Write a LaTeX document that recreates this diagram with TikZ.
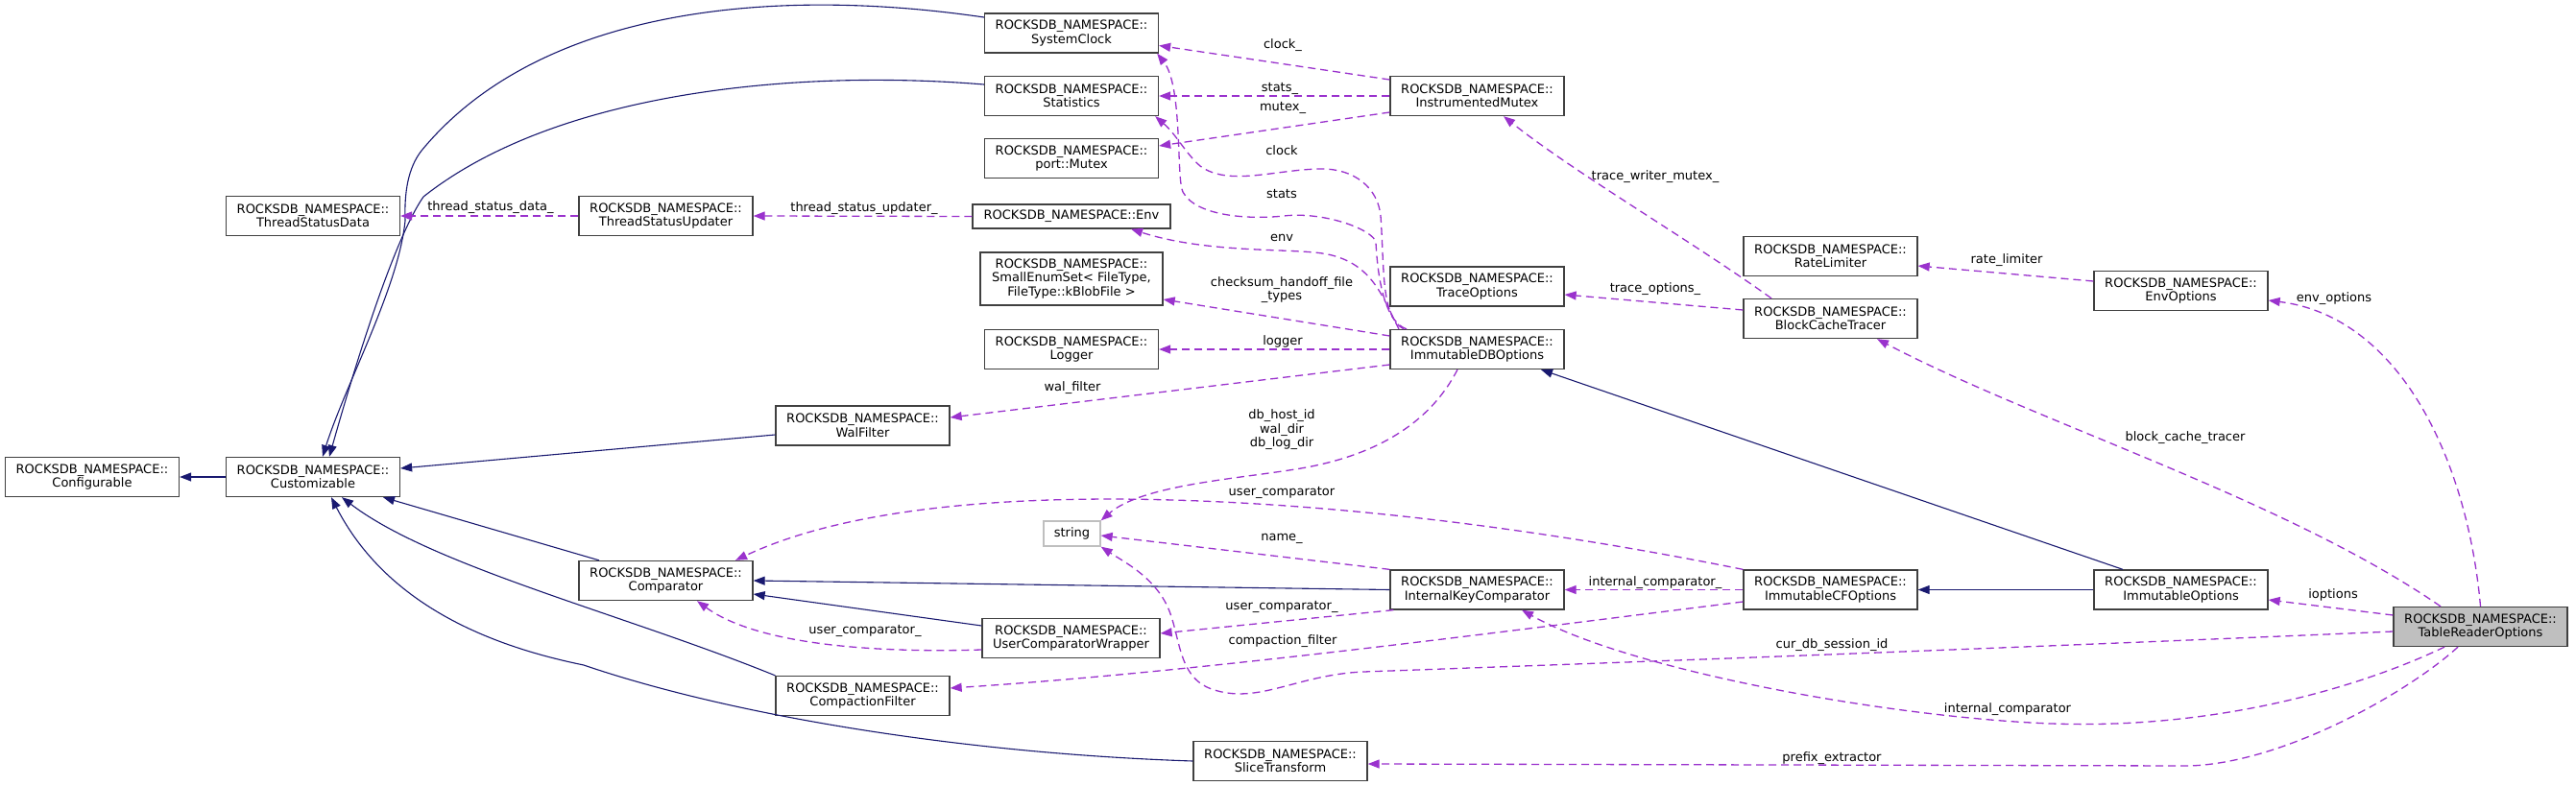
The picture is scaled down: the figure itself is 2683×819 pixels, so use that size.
\documentclass[tikz,border=0pt]{standalone}
\usepackage{fontspec}
\setmainfont{DejaVu Sans}
\usetikzlibrary{arrows.meta}
\definecolor{mblue}{HTML}{191970}
\definecolor{purp}{HTML}{9A32CD}
\definecolor{bord}{HTML}{404040}
\definecolor{gfill}{HTML}{BFBFBF}
\begin{document}
\begin{tikzpicture}[x=1pt,y=-1pt,
  cls/.style={draw=bord, line width=1.3pt, fill=white, align=center, inner sep=0pt,
    minimum width=181pt, minimum height=41pt, font=\fontsize{13}{14.5}\selectfont},
  lbl/.style={inner sep=0pt, align=center, font=\fontsize{13}{14.5}\selectfont},
  slbl/.style={lbl, text height=9.5pt, text depth=2.5pt},
  inh/.style={draw=mblue, line width=1.1pt, -{Triangle[length=12pt,width=9pt]}},
  usage/.style={draw=purp, line width=1.3pt, dash pattern=on 8pt off 5pt, -{Triangle[length=12pt,width=9pt]}}]
\path[use as bounding box, fill=white] (0,0) rectangle (2683,819);

% nodes
\node[cls] (cfg) at (96,497) {ROCKSDB\_NAMESPACE::\\Configurable};
\node[cls] (cust) at (326,497) {ROCKSDB\_NAMESPACE::\\Customizable};
\node[cls] (tsd) at (326,225) {ROCKSDB\_NAMESPACE::\\ThreadStatusData};
\node[cls] (tsu) at (693.5,225) {ROCKSDB\_NAMESPACE::\\ThreadStatusUpdater};
\node[cls] (cmp) at (693.5,605) {ROCKSDB\_NAMESPACE::\\Comparator};
\node[cls] (wal) at (898.5,443.5) {ROCKSDB\_NAMESPACE::\\WalFilter};
\node[cls] (cf) at (898.5,725) {ROCKSDB\_NAMESPACE::\\CompactionFilter};
\node[cls] (sc) at (1116,34.5) {ROCKSDB\_NAMESPACE::\\SystemClock};
\node[cls] (stat) at (1116,100) {ROCKSDB\_NAMESPACE::\\Statistics};
\node[cls] (pmx) at (1116,165) {ROCKSDB\_NAMESPACE::\\port::Mutex};
\node[cls, minimum width=206pt, minimum height=25pt] (env) at (1116,225.5) {ROCKSDB\_NAMESPACE::Env};
\node[cls, minimum width=190pt, minimum height=55pt] (ses) at (1116,290.5) {ROCKSDB\_NAMESPACE::\\SmallEnumSet< FileType,\\FileType::kBlobFile >};
\node[cls] (log) at (1116,364) {ROCKSDB\_NAMESPACE::\\Logger};
\node[cls, minimum width=185pt] (ucw) at (1115.5,665) {ROCKSDB\_NAMESPACE::\\UserComparatorWrapper};
\node[cls, draw=gfill, minimum width=59pt, minimum height=26pt] (str) at (1116.5,556) {string};
\node[cls] (st) at (1333.5,793) {ROCKSDB\_NAMESPACE::\\SliceTransform};
\node[cls] (im) at (1538.5,100) {ROCKSDB\_NAMESPACE::\\InstrumentedMutex};
\node[cls] (trop) at (1538.5,298.5) {ROCKSDB\_NAMESPACE::\\TraceOptions};
\node[cls] (idbo) at (1538.5,364) {ROCKSDB\_NAMESPACE::\\ImmutableDBOptions};
\node[cls] (ikc) at (1538.5,614.5) {ROCKSDB\_NAMESPACE::\\InternalKeyComparator};
\node[cls] (rl) at (1906.5,267) {ROCKSDB\_NAMESPACE::\\RateLimiter};
\node[cls] (bct) at (1906.5,332) {ROCKSDB\_NAMESPACE::\\BlockCacheTracer};
\node[cls] (icfo) at (1906.5,614.5) {ROCKSDB\_NAMESPACE::\\ImmutableCFOptions};
\node[cls] (envo) at (2271.5,303) {ROCKSDB\_NAMESPACE::\\EnvOptions};
\node[cls] (io) at (2271.5,614.5) {ROCKSDB\_NAMESPACE::\\ImmutableOptions};
\node[cls, fill=gfill] (tro) at (2583.5,653) {ROCKSDB\_NAMESPACE::\\TableReaderOptions};

% inheritance edges
\draw[inh] (cust.west) -- (cfg.east);
\draw[inh] ([yshift=16.5pt]sc.west) .. controls (800,-15) and (560,10) .. (439,157)
  .. controls (425,175) and (421,200) .. (422,230)
  .. controls (415,300) and (360,400) .. ([xshift=10pt]cust.north);
\draw[inh] ([yshift=12pt]stat.west) .. controls (830,72) and (580,95) .. (441,205)
  .. controls (410,250) and (370,380) .. ([xshift=17pt]cust.north);
\draw[inh] ([yshift=-9.5pt]wal.west) -- ([yshift=9pt]cust.east);
\draw[inh] ([xshift=-69.5pt]cmp.north) -- ([xshift=73pt]cust.south);
\draw[inh] (cf.north west) .. controls (650,640) and (450,590) .. ([xshift=30pt]cust.south);
\draw[inh] (st.west) .. controls (1000,785) and (760,745) .. (608,693)
  .. controls (520,675) and (405,635) .. ([xshift=19pt]cust.south);
\draw[inh] (ikc.west) -- (cmp.east);
\draw[inh] ([yshift=13pt]ucw.west) -- ([yshift=-14pt]cmp.east);
\draw[inh] ([xshift=-60.5pt]io.north) -- ([xshift=66.5pt]idbo.south);
\draw[inh] (io.west) -- (icfo.east);

% usage edges
\draw[usage] ([yshift=17pt]im.west) -- ([yshift=-13pt]sc.east);
\draw[usage] (im.west) -- (stat.east);
\draw[usage] ([yshift=-17pt]im.west) -- ([yshift=13pt]pmx.east);
\draw[usage] (tsu.west) -- (tsd.east);
\draw[usage] (env.west) -- (tsu.east);
\draw[usage] ([xshift=-73.5pt]idbo.north) .. controls (1442,335) and (1435,290) .. (1433,253)
  .. controls (1432,240) and (1380,220) .. (1337,225)
  .. controls (1300,229) and (1245,225) .. (1232,200)
  .. controls (1225,187) and (1232,90) .. ([xshift=-2pt]sc.south east);
\draw[usage] ([xshift=-76.5pt]idbo.north) .. controls (1438,330) and (1442,280) .. (1438,225)
  .. controls (1435,195) and (1410,176) .. (1377,176)
  .. controls (1330,176) and (1280,195) .. (1250,173)
  .. controls (1235,160) and (1225,140) .. ([xshift=-4pt]stat.south east);
\draw[usage] ([xshift=-81.5pt]idbo.north) .. controls (1440,310) and (1430,275) .. (1383,265)
  .. controls (1350,258) and (1260,265) .. ([xshift=62pt]env.south);
\draw[usage] ([yshift=14pt]idbo.west) -- ([yshift=-21.5pt]ses.east);
\draw[usage] (idbo.west) -- (log.east);
\draw[usage] ([yshift=-16pt]idbo.west) -- ([yshift=8.5pt]wal.east);
\draw[usage] ([xshift=-20.5pt]idbo.south) .. controls (1500,420) and (1460,470) .. (1355,488)
  .. controls (1290,499) and (1190,505) .. (str.north east);
\draw[usage] (icfo.north west) .. controls (1650,560) and (1450,530) .. (1250,522)
  .. controls (1050,514) and (880,530) .. ([xshift=72.5pt]cmp.north);
\draw[usage] (ikc.north west) -- ([yshift=-2pt]str.east);
\draw[usage] ([xshift=4pt]ikc.south west) -- ([yshift=5pt]ucw.east);
\draw[usage] ([yshift=-12pt]ucw.west) .. controls (960,679) and (800,680) .. ([xshift=32.5pt]cmp.south);
\draw[usage] (icfo.west) -- (ikc.east);
\draw[usage] ([yshift=-12.5pt]icfo.west) .. controls (1550,660) and (1250,700) .. ([yshift=8pt]cf.east);
\draw[usage] (tro.north) .. controls (2570,480) and (2500,330) .. ([yshift=-10pt]envo.east);
\draw[usage] ([yshift=10pt]envo.west) -- ([yshift=-10pt]rl.east);
\draw[usage] ([xshift=-61.5pt]bct.north) .. controls (1760,250) and (1640,180) .. ([xshift=27.5pt]im.south);
\draw[usage] ([yshift=9pt]bct.west) -- ([yshift=-8.5pt]trop.east);
\draw[usage] ([xshift=-41.5pt]tro.north) .. controls (2380,520) and (2120,440) .. ([xshift=48.5pt]bct.south);
\draw[usage] ([yshift=12pt]tro.west) -- ([yshift=-10.5pt]io.east);
\draw[usage] ([yshift=-5pt]tro.west) .. controls (2100,675) and (1700,690) .. (1420,700)
  .. controls (1350,703) and (1310,735) .. (1262,718)
  .. controls (1225,705) and (1230,660) .. (1215,630)
  .. controls (1200,600) and (1170,585) .. (str.south east);
\draw[usage] ([xshift=-37.5pt]tro.south) .. controls (2450,720) and (2300,760) .. (2137,754)
  .. controls (1974,748) and (1700,700) .. ([xshift=46.5pt]ikc.south);
\draw[usage] ([xshift=-23.5pt]tro.south) .. controls (2510,720) and (2380,795) .. (2280,798)
  -- ([yshift=-3pt]st.east);

% labels
\node[slbl] (l1) at (511,216) {thread\_status\_data\_};
\node[slbl] (l2) at (900,217) {thread\_status\_updater\_};
\node[slbl] (l3) at (1336,47) {clock\_};
\node[slbl] (l4) at (1333,92) {stats\_};
\node[slbl] (l5) at (1336,112) {mutex\_};
\node[slbl] (l6) at (1335,158) {clock};
\node[slbl] (l7) at (1335,203) {stats};
\node[slbl] (l8) at (1335,248) {env};
\node[lbl] (l9) at (1335,302) {checksum\_handoff\_file\\\_types};
\node[slbl] (l10) at (1336,356) {logger};
\node[slbl] (l11) at (1117,404) {wal\_filter};
\node[lbl] (l12) at (1335,448) {db\_host\_id\\wal\_dir\\db\_log\_dir};
\node[slbl] (l13) at (1335,513) {user\_comparator};
\node[slbl] (l14) at (1335,560) {name\_};
\node[slbl] (l15) at (1335,632) {user\_comparator\_};
\node[slbl] (l16) at (1336,668) {compaction\_filter};
\node[slbl] (l17) at (901,657) {user\_comparator\_};
\node[slbl] (l18) at (1724,607) {internal\_comparator\_};
\node[slbl] (l19) at (1724,184) {trace\_writer\_mutex\_};
\node[slbl] (l20) at (1724,301) {trace\_options\_};
\node[slbl] (l21) at (2090,271) {rate\_limiter};
\node[slbl] (l22) at (2431,311) {env\_options};
\node[slbl] (l23) at (2276,456) {block\_cache\_tracer};
\node[slbl] (l24) at (2430,620) {ioptions};
\node[slbl] (l25) at (1908,672) {cur\_db\_session\_id};
\node[slbl] (l26) at (2091,739) {internal\_comparator};
\node[slbl] (l27) at (1908,790) {prefix\_extractor};
\end{tikzpicture}
\end{document}
